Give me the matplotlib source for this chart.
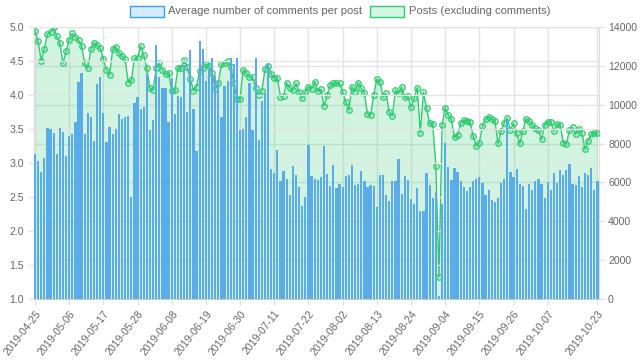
import matplotlib
matplotlib.use('Agg')
import matplotlib.pyplot as plt
import numpy as np
import pandas as pd
from matplotlib.patches import Rectangle

plt.rcParams['font.family'] = ['Liberation Sans', 'DejaVu Sans']

dates = pd.date_range('2019-04-25', '2019-10-23', freq='D').strftime('%Y-%m-%d').tolist()

avg_comments = [
    3.13, 3.03, 2.87, 3.07, 3.51, 3.50, 3.44, 3.13, 3.51, 3.46,
    3.11, 3.39, 3.42, 3.60, 4.19, 4.32, 3.42, 3.74, 3.68, 3.32,
    4.16, 4.27, 3.74, 3.31, 3.53, 3.43, 3.50, 3.72, 3.64, 3.68,
    3.69, 2.50, 3.88, 3.97, 3.80, 3.82, 4.32, 3.49, 3.63, 4.73,
    4.26, 4.10, 4.10, 3.61, 4.25, 3.72, 3.99, 3.97, 4.44, 3.75,
    4.66, 3.79, 3.17, 4.79, 4.67, 4.21, 4.38, 4.54, 4.28, 4.20,
    3.67, 4.13, 4.20, 4.54, 4.46, 4.54, 3.48, 3.50, 3.67, 4.18,
    3.48, 4.55, 3.34, 3.91, 4.03, 4.45, 2.91, 2.86, 3.19, 2.73,
    2.88, 2.77, 2.53, 2.95, 2.82, 2.65, 2.37, 2.50, 3.27, 2.81,
    2.77, 2.75, 2.79, 3.25, 2.84, 2.66, 2.97, 2.63, 2.69, 2.64,
    2.81, 2.83, 2.97, 2.67, 2.69, 2.88, 2.73, 2.65, 2.67, 2.66,
    2.36, 2.82, 2.82, 2.53, 2.44, 2.73, 2.74, 3.06, 2.55, 2.81,
    2.75, 2.47, 2.39, 2.63, 2.30, 2.29, 2.86, 2.68, 2.48, 2.58,
    1.04, 2.40, 3.30, 2.94, 2.75, 2.92, 2.87, 2.73, 2.65, 2.59,
    2.65, 2.74, 2.76, 2.79, 2.70, 2.53, 2.61, 2.46, 2.42, 2.48,
    2.70, 2.76, 3.63, 2.87, 2.80, 2.91, 2.69, 2.66, 2.33, 2.69,
    2.61, 2.74, 2.77, 2.69, 2.48, 2.72, 2.60, 2.85, 2.71, 2.89,
    2.82, 2.90, 2.99, 2.69, 2.67, 2.81, 2.65, 2.86, 2.83, 2.93,
    2.60, 2.74,
]

posts = [
    13810, 13260, 12270, 12890, 13640, 13730, 13990, 13540, 13180, 12130,
    12750, 13350, 13670, 13500, 13330, 13020, 12130, 11870, 12850, 13180,
    13060, 12900, 12340, 11790, 11530, 12850, 12990, 12680, 12510, 12340,
    11140, 11270, 12390, 12390, 13020, 12560, 11870, 10840, 10760, 11870,
    12130, 11790, 11560, 11650, 10710, 10760, 11910, 11870, 12300, 11920,
    11320, 10720, 10930, 11750, 11870, 12080, 12010, 11650, 10790, 11140,
    12080, 12130, 12230, 11940, 11120, 10290, 10310, 11790, 11620, 11430,
    11440, 10840, 10500, 10690, 11820, 12010, 11580, 11360, 11360, 10410,
    10470, 11120, 10880, 10740, 11100, 10670, 10330, 10670, 10930, 10810,
    11190, 10710, 10790, 9930, 10480, 11020, 11100, 11100, 11100, 10670,
    10160, 9730, 10930, 10670, 11140, 10840, 10590, 9520, 9470, 10500,
    11310, 11190, 10380, 10590, 9610, 9440, 10760, 10590, 10900, 10380,
    10450, 9870, 10330, 10880, 8560, 10640, 9810, 9040, 8990, 6860,
    1150, 8960, 9850, 9470, 9250, 8320, 8440, 9040, 9210, 9180,
    9130, 8390, 7880, 8050, 8900, 9250, 9390, 9250, 9180, 8010,
    8650, 9080, 9300, 8700, 9040, 8530, 8010, 8650, 9280, 9160,
    8960, 8780, 8700, 8220, 8960, 9130, 9130, 8650, 9010, 8960,
    8050, 7980, 8700, 8840, 8480, 8770, 8560, 7700, 8150, 8490,
    8530, 8530,
]

left_ticks = [1.0, 1.5, 2.0, 2.5, 3.0, 3.5, 4.0, 4.5, 5.0]
right_ticks = [0, 2000, 4000, 6000, 8000, 10000, 12000, 14000]
label_step = 11

bar_label = 'Average number of comments per post'
line_label = 'Posts (excluding comments)'

W, H = 640, 361
fig = plt.figure(figsize=(W / 100, H / 100), dpi=100)
x0, x1, ytop, ybot = 33.6, 599.0, 27.0, 299.0
ax2 = fig.add_axes([x0 / W, 1 - ybot / H, (x1 - x0) / W, (ybot - ytop) / H])
ax = fig.add_axes(ax2.get_position(), sharex=ax2)
ax.set_zorder(ax2.get_zorder() + 1)
ax.patch.set_visible(False)

x = np.arange(len(dates))
grid_c = '#e4e4e4'
txt_c = '#666666'
green = '#2ecc71'
blue = '#36a2eb'
fs = 7.6

# line dataset with fill (behind bars)
ax2.fill_between(x, posts, 0, color=green, alpha=0.22, linewidth=0, zorder=1)
ax2.plot(x, posts, color=green, linewidth=1.0, marker='o', markersize=4.0,
         markerfacecolor=(0.18, 0.8, 0.44, 0.2), markeredgecolor=green,
         markeredgewidth=0.9, zorder=3)
ax2.set_ylim(0, 14000)
ax2.set_yticks(right_ticks)
ax2.set_yticklabels([str(v) for v in right_ticks])
ax2.yaxis.tick_right()
ax2.grid(axis='y', color=grid_c, linewidth=1.0, zorder=0)
ax2.set_axisbelow(True)

# bars
ax.bar(x, avg_comments, bottom=0, width=0.72, color='#5aace8', linewidth=0, zorder=2)
ax.set_ylim(1.0, 5.0)
ax.set_yticks(left_ticks)
ax.set_yticklabels([f'{v:.1f}' for v in left_ticks])
ax.grid(axis='y', color=grid_c, linewidth=1.0)
ax.set_axisbelow(True)

# x axis
tick_idx = list(range(0, len(dates), label_step))
if tick_idx[-1] != len(dates) - 1:
    if len(dates) - 1 - tick_idx[-1] < label_step * 0.6:
        tick_idx = tick_idx[:-1]
    tick_idx.append(len(dates) - 1)
ax.set_xlim(-0.45, len(dates) - 0.5)
ax.set_xticks(tick_idx)
ax.set_xticklabels([dates[i] for i in tick_idx], rotation=52, ha='right', va='top',
                   rotation_mode='anchor')
for i in tick_idx:
    ax2.axvline(i, color=grid_c, linewidth=1.0, zorder=0)

for a in (ax, ax2):
    for s in a.spines.values():
        s.set_visible(False)
    a.tick_params(colors=txt_c, labelsize=fs, length=4, width=1, color=grid_c)
ax2.tick_params(axis='x', bottom=False, labelbottom=False)
ax2.tick_params(axis='y', pad=2.5)
ax.tick_params(axis='y', pad=3)
ax.tick_params(axis='x', pad=3)
ax2.spines['bottom'].set_visible(True)
ax2.spines['bottom'].set_color('#cccccc')
ax2.spines['left'].set_visible(True)
ax2.spines['left'].set_color('#dddddd')
ax2.spines['right'].set_visible(True)
ax2.spines['right'].set_color('#dddddd')

# legend
def px_rect(xp, yp, w, h, fc, ec):
    fig.patches.append(Rectangle((xp / W, 1 - (yp + h) / H), w / W, h / H,
                                 transform=fig.transFigure, facecolor=fc,
                                 edgecolor=ec, linewidth=1.0))

px_rect(130, 6, 34, 11, (0.21, 0.64, 0.92, 0.2), blue)
fig.text(168 / W, 1 - 11.5 / H, bar_label, color=txt_c, fontsize=8.1, va='center', ha='left')
px_rect(370, 6, 34, 11, (0.18, 0.8, 0.44, 0.2), green)
fig.text(409 / W, 1 - 11.5 / H, line_label, color=txt_c, fontsize=8.1, va='center', ha='left')

fig.savefig('out.png', dpi=100)
